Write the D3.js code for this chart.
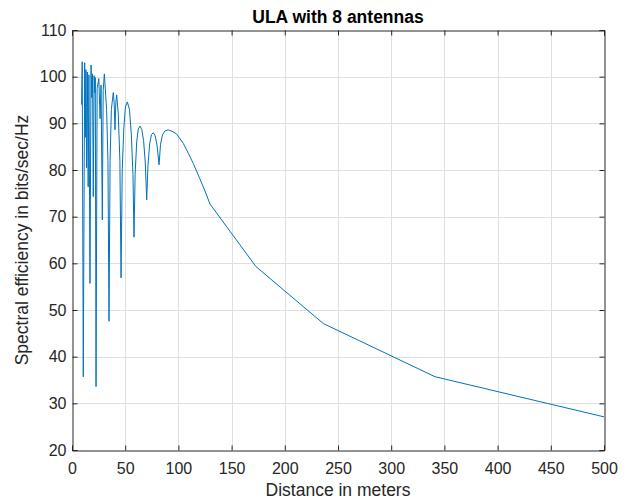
<!DOCTYPE html>
<html>
<head>
<meta charset="utf-8">
<script src="https://cdn.jsdelivr.net/npm/d3@7/dist/d3.min.js"></script>
<style>
  html, body { margin: 0; padding: 0; background: #fff; }
  svg { display: block; }
  text { font-family: "Liberation Sans", Arial, Helvetica, sans-serif; fill: #262626; }
</style>
</head>
<body>
<svg id="chart" width="632" height="501"></svg>
<script>
// Spectral efficiency of an 8-antenna ULA versus distance
const distance = [
  9.0, 9.6, 10.6, 11.9, 12.5, 13.1, 13.7, 14.4, 15.2, 15.9,
  16.9, 17.9, 18.6, 19.3, 20.0, 20.8, 21.4, 21.9, 22.6, 23.6,
  25.2, 26.4, 27.3, 28.5, 29.3, 30.4, 32.5, 33.8, 34.8, 35.8,
  37.0, 38.8, 39.6, 40.4, 41.2, 42.0, 43.5, 45.0, 46.1, 47.2,
  48.7, 50.2, 52.0, 54.0, 55.8, 57.3, 58.3, 59.3, 60.8, 62.3,
  63.9, 65.6, 67.3, 68.9, 70.2, 71.4, 73.0, 74.7, 76.4, 78.2,
  80.0, 81.8, 83.2, 85.0, 87.5, 90.5, 94.0, 98.4, 104.6, 109.5,
  114.0, 120.0, 125.0, 129.7, 172.9, 236.2, 341.2, 500.0
];
const efficiency = [
  94.0, 103.2, 35.7, 103.0, 87.0, 101.5, 80.5, 101.0, 76.4, 100.4,
  55.7, 102.5, 95.5, 100.6, 74.3, 100.2, 96.5, 99.8, 33.6, 97.5,
  99.6, 91.0, 98.2, 69.3, 97.0, 100.6, 93.0, 82.0, 47.6, 82.0,
  93.0, 96.6, 94.5, 88.6, 94.5, 96.1, 92.0, 82.0, 56.9, 80.0,
  89.0, 93.5, 94.6, 93.0, 87.5, 79.0, 65.6, 79.0, 86.0, 88.8,
  89.4, 88.7, 86.3, 81.5, 73.6, 81.0, 85.6, 87.6, 88.0, 87.3,
  85.2, 81.1, 85.5, 87.5, 88.4, 88.6, 88.3, 87.7, 85.7, 83.5,
  81.4, 78.2, 75.5, 72.7, 59.3, 47.1, 35.7, 27.1
];
const xTicks = [0, 50, 100, 150, 200, 250, 300, 350, 400, 450, 500];
const yTicks = [20, 30, 40, 50, 60, 70, 80, 90, 100, 110];
const titleText = "ULA with 8 antennas";
const xLabel = "Distance in meters";
const yLabel = "Spectral efficiency in bits/sec/Hz";

const svg = d3.select("#chart");
const plotL = 72, plotR = 604, plotT = 30, plotB = 450;
const axisColor = "#262626";
const gridColor = "#dfdfdf";

const x = d3.scaleLinear().domain([0, 500]).range([plotL, plotR]);
const y = d3.scaleLinear().domain([20, 110]).range([plotB, plotT]);

// grid
const grid = svg.append("g");
grid.selectAll(".gx").data(xTicks.slice(1, -1)).enter().append("line")
  .attr("x1", d => Math.round(x(d)) + 0.5).attr("x2", d => Math.round(x(d)) + 0.5)
  .attr("y1", plotT).attr("y2", plotB)
  .attr("stroke", gridColor).attr("stroke-width", 1);
grid.selectAll(".gy").data(yTicks.slice(1, -1)).enter().append("line")
  .attr("y1", d => Math.round(y(d)) + 0.5).attr("y2", d => Math.round(y(d)) + 0.5)
  .attr("x1", plotL).attr("x2", plotR)
  .attr("stroke", gridColor).attr("stroke-width", 1);

// data line
const pts = distance.map((d, i) => [d, efficiency[i]]);
svg.append("path")
  .datum(pts)
  .attr("d", d3.line().x(d => x(d[0])).y(d => y(d[1])))
  .attr("fill", "none")
  .attr("stroke", "#0072BD")
  .attr("stroke-width", 1)
  .attr("stroke-linejoin", "round");

// axes (ticks pointing inward, labels outside)
const fs = 16;
const xAxis = svg.append("g").attr("transform", `translate(0,${plotB + 0.5})`)
  .call(d3.axisBottom(x).tickValues(xTicks).tickSize(-5).tickPadding(12).tickFormat(d3.format("d")));
const yAxis = svg.append("g").attr("transform", `translate(${plotL + 0.5},0)`)
  .call(d3.axisLeft(y).tickValues(yTicks).tickSize(-5).tickPadding(6).tickFormat(d3.format("d")));
const xTop = svg.append("g").attr("transform", `translate(0,${plotT + 0.5})`)
  .call(d3.axisTop(x).tickValues(xTicks).tickSize(-5).tickFormat(""));
const yRight = svg.append("g").attr("transform", `translate(${plotR + 0.5},0)`)
  .call(d3.axisRight(y).tickValues(yTicks).tickSize(-5).tickFormat(""));

[xAxis, yAxis, xTop, yRight].forEach(g => {
  g.select(".domain").attr("stroke", axisColor).attr("stroke-width", 1);
  g.selectAll(".tick line").attr("stroke", axisColor).attr("stroke-width", 1);
  g.selectAll(".tick text")
    .attr("font-family", '"Liberation Sans", Arial, sans-serif')
    .attr("font-size", fs).attr("fill", axisColor);
});

// title and axis labels
svg.append("text")
  .attr("x", (plotL + plotR) / 2).attr("y", 23)
  .attr("text-anchor", "middle")
  .attr("font-size", 17.5).attr("font-weight", "bold")
  .style("fill", "#000")
  .text(titleText);
svg.append("text")
  .attr("x", (plotL + plotR) / 2).attr("y", 496)
  .attr("text-anchor", "middle")
  .attr("font-size", 17.5)
  .text(xLabel);
svg.append("text")
  .attr("transform", `translate(28,${(plotT + plotB) / 2}) rotate(-90)`)
  .attr("text-anchor", "middle")
  .attr("font-size", 17.5)
  .text(yLabel);
</script>
</body>
</html>
